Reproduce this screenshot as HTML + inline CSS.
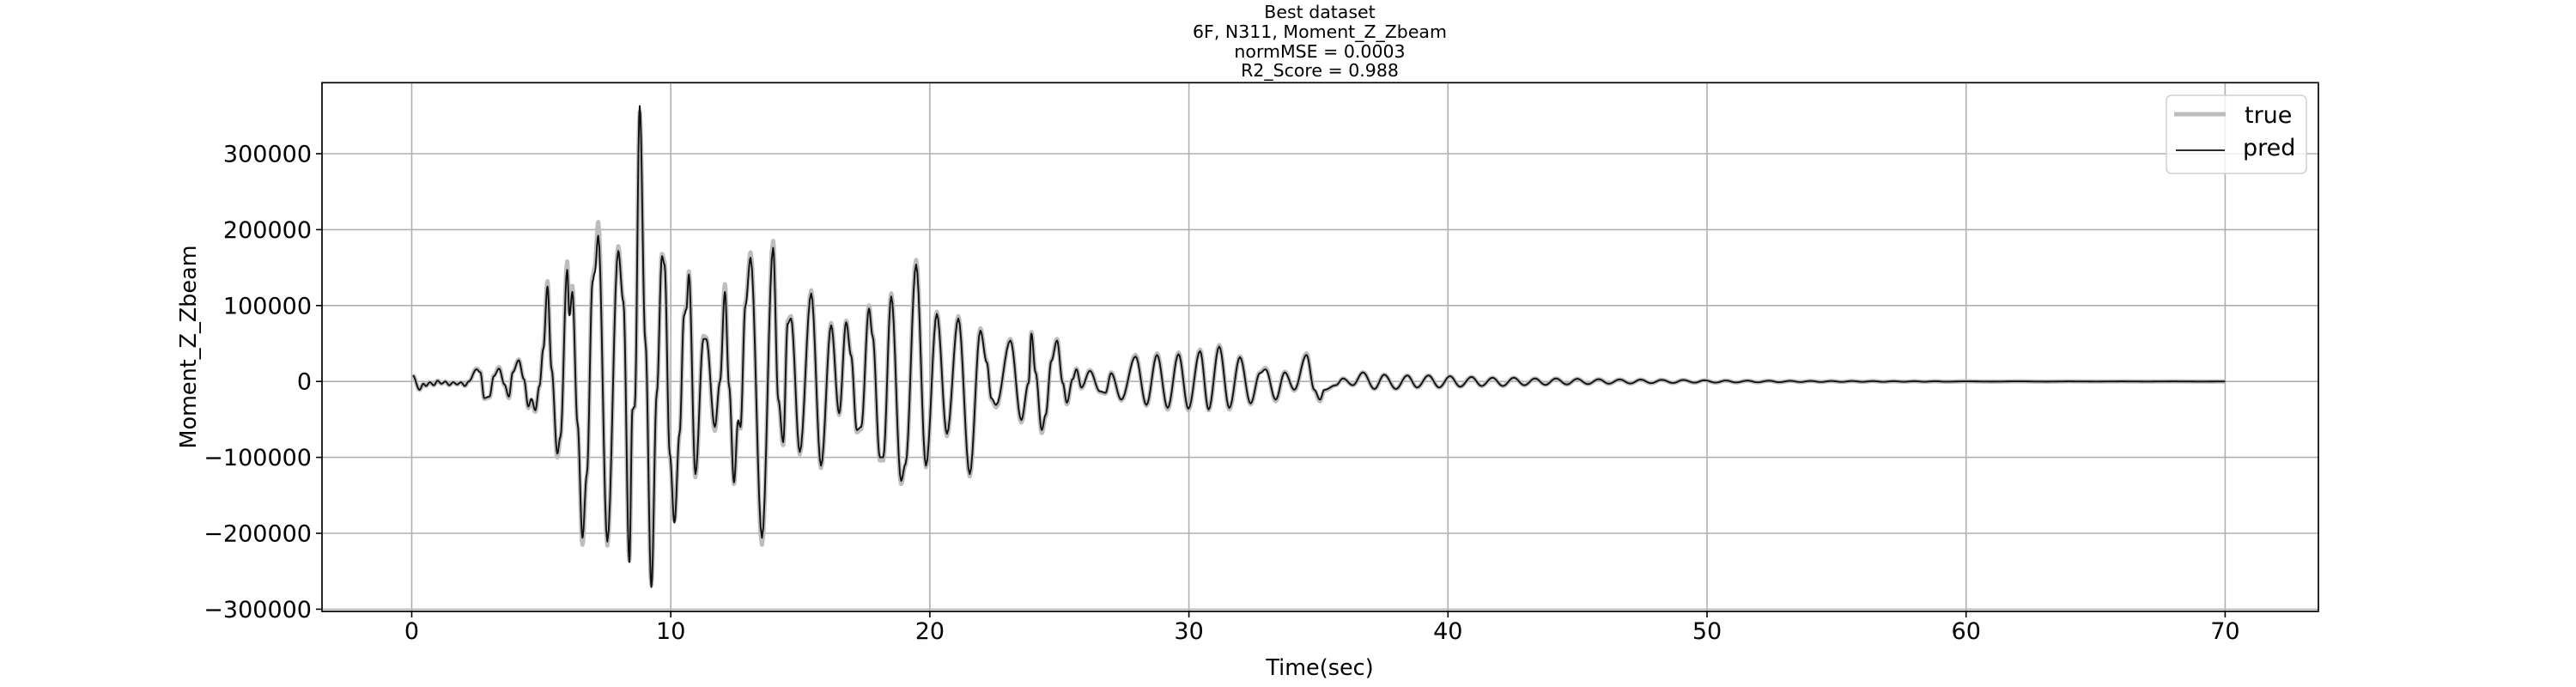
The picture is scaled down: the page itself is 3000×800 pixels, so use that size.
<!DOCTYPE html>
<html><head><meta charset="utf-8">
<style>
html,body{margin:0;padding:0;background:#fff;}
svg{display:block;font-family:"DejaVu Sans","Liberation Sans",sans-serif;}
</style></head>
<body>
<svg id="chart" width="3000" height="800" viewBox="0 0 3000 800" xmlns="http://www.w3.org/2000/svg">
<rect width="3000" height="800" fill="#fff"/>
<g font-size="20.5" text-anchor="middle" fill="#000">
<text x="1537" y="21">Best dataset</text>
<text x="1537" y="44">6F, N311, Moment_Z_Zbeam</text>
<text x="1537" y="67">normMSE = 0.0003</text>
<text x="1537" y="89">R2_Score = 0.988</text>
</g>
<g id="grid"></g>
<g id="ticks"></g>
<g id="series"></g>
<rect x="375" y="96.3" width="2325" height="615.7" fill="none" stroke="#000" stroke-width="1.7"/>
<text x="1537" y="786" font-size="25.5" text-anchor="middle">Time(sec)</text>
<text transform="translate(228,404) rotate(-90)" font-size="25.5" text-anchor="middle">Moment_Z_Zbeam</text>
<g>
<rect x="2523" y="111" width="163" height="91" rx="6" fill="#fff" fill-opacity="0.8" stroke="#d0d0d0" stroke-width="1.5"/>
<line x1="2532" y1="133" x2="2592" y2="133" stroke="#bdbdbd" stroke-width="5"/>
<text x="2614" y="143" font-size="27">true</text>
<line x1="2534" y1="175" x2="2591" y2="175" stroke="#111" stroke-width="1.8"/>
<text x="2612" y="181" font-size="27">pred</text>
</g>
</svg>
<script>
const times = [0.04,0.3,0.45,0.55,0.7,0.85,1.0,1.15,1.3,1.45,1.6,1.75,1.9,2.05,2.2,2.5,2.65,2.8,3.0,3.17,3.37,3.58,3.75,3.9,4.13,4.33,4.5,4.62,4.77,4.93,5.08,5.24,5.4,5.62,5.74,6.0,6.09,6.2,6.4,6.59,6.76,6.98,7.06,7.2,7.55,7.97,8.17,8.4,8.52,8.61,8.8,9.02,9.25,9.46,9.66,9.76,9.96,10.14,10.34,10.51,10.6,10.7,10.95,11.26,11.37,11.7,11.9,12.09,12.25,12.44,12.6,12.69,12.88,13.08,13.52,13.95,14.15,14.34,14.51,14.64,14.98,15.42,15.8,16.19,16.5,16.77,16.96,17.18,17.35,17.65,17.79,18.07,18.2,18.51,18.89,19.06,19.47,19.85,20.27,20.66,21.1,21.54,21.95,22.2,22.37,22.56,23.11,23.53,23.81,23.92,24.08,24.32,24.47,24.69,24.91,25.13,25.29,25.51,25.66,25.85,26.18,26.56,26.78,27.0,27.39,27.94,28.36,28.77,29.18,29.6,29.98,30.43,30.76,31.17,31.56,31.97,32.38,32.74,32.96,33.35,33.7,34.07,34.54,34.84,35.06,35.23,35.67,35.95,36.33,36.72,37.16,37.54,37.99,38.43,38.81,39.25,39.66,40.08,40.47,40.91,41.3,41.72,42.12,42.54,42.95,43.36,43.76,44.17,44.59,44.99,45.4,45.82,46.21,46.63,47.04,47.44,47.84,48.25,48.69,49.08,49.52,49.9,50.33,50.73,51.12,51.56,51.95,52.39,52.78,53.22,53.6,54.0,54.4,54.8,55.2,55.6,56.0,56.4,56.8,57.2,57.6,58.0,58.4,58.8,59.2,60,61,62,63,64,65,66,67,68,69,70];
const predValuesK = [8,-11,-3,-6,-1,-5,1,-3,0,-5,-1,-4,-1,-6,0,16,12,-22,-20,7,17,-4,-20,12,28,3,-33,-23,-38,-6,43,125,16,-95,-73,147,87,118,-55,-206,-122,132,143,192,-211,172,105,-238,-37,-33,363,52,-271,-15,165,154,-95,-186,-68,87,95,141,-122,56,56,-60,0,118,-6,-133,-51,-60,100,163,-206,176,-24,-80,76,83,-93,116,-111,74,-42,78,34,-64,-60,96,60,-100,-100,112,-131,-109,154,-111,89,-69,83,-122,67,25,-22,-31,54,-51,-2,63,12,-64,-44,27,54,-2,-28,3,16,-8,14,-13,-15,11,-24,33,-31,35,-35,36,-36,40,-37,46,-35,32,-29,11,16,-24,12,-11,35,-11,-24,-11,-5,4,-5,12,-10,9,-10,8,-8,8,-8,7,-7,6,-6,5,-6,5,-5,4,-4.5,4,-4,3.5,-3.5,3,-3,2.7,-2.7,2.5,-2.3,2.2,-2,2,-1.6,1.6,-1.5,1.2,-1.3,1.1,-1.1,1,-1,0.8,-0.8,0.7,-0.7,0.6,-0.6,0.6,-0.5,0.5,-0.5,0.4,-0.4,0.4,-0.4,0.3,-0.3,0.2,-0.2,0.2,-0.2,0.1,-0.1,0.1,-0.1,0.1,-0.1,0];
const trueValuesK = [8,-11,-3,-6,-1,-5,1,-3,0,-5,-1,-4,-1,-6,0,17,13,-23,-21,8,19,-5,-22,13,29,3,-35,-24,-40,-6,45,132,16,-100,-75,158,90,126,-58,-215,-125,138,150,210,-216,178,108,-236,-38,-34,355,55,-268,-16,168,158,-98,-184,-70,90,98,145,-126,60,58,-65,0,128,-6,-135,-55,-62,104,170,-215,185,-25,-84,80,86,-96,120,-114,77,-44,80,36,-67,-63,100,62,-104,-104,116,-135,-110,160,-113,92,-72,86,-125,70,26,-24,-34,56,-54,-2,65,13,-68,-46,28,56,-2,-30,3,17,-9,15,-14,-16,12,-25,35,-32,37,-37,38,-38,42,-38,48,-37,33,-30,12,18,-26,13,-12,37,-12,-26,-12,-5,4,-5,12,-10,9,-10,8,-8,8,-8,7,-7,6,-6,5,-6,5,-5,4,-4.5,4,-4,3.5,-3.5,3,-3,2.7,-2.7,2.5,-2.3,2.2,-2,2,-1.6,1.6,-1.5,1.2,-1.3,1.1,-1.1,1,-1,0.8,-0.8,0.7,-0.7,0.6,-0.6,0.6,-0.5,0.5,-0.5,0.4,-0.4,0.4,-0.4,0.3,-0.3,0.2,-0.2,0.2,-0.2,0.1,-0.1,0.1,-0.1,0.1,-0.1,0];
const xTickValues = [0,10,20,30,40,50,60,70];
const xTickLabels = ["0","10","20","30","40","50","60","70"];
const yTickValues = [-300000,-200000,-100000,0,100000,200000,300000];
const yTickLabels = ["\u2212300000","\u2212200000","\u2212100000","0","100000","200000","300000"];

const NS = "http://www.w3.org/2000/svg";
const PL = 375, PR = 2700, PT = 96.3, PB = 712;
function xScale(t){ return 479.5 + t * 30.17; }
function yScale(v){ return 444.2 - v / 100000 * 88.4; }
function mk(tag, attrs){ const e = document.createElementNS(NS, tag); for (const k in attrs) e.setAttribute(k, attrs[k]); return e; }

const grid = document.getElementById('grid');
const ticks = document.getElementById('ticks');
xTickValues.forEach((t, i) => {
  const x = xScale(t);
  const g = mk('line', {x1:x, y1:PT, x2:x, y2:PB, stroke:'#b0b0b0', 'stroke-width':1.6});
  
  
  grid.appendChild(g);
  const tk = mk('line', {x1:x, y1:PB, x2:x, y2:PB+7, stroke:'#000', 'stroke-width':1.6});
  
  
  ticks.appendChild(tk);
  const lb = mk('text', {x:x, y:744, 'font-size':27, 'text-anchor':'middle'});
  lb.textContent = xTickLabels[i];
  
  
  ticks.appendChild(lb);
});
yTickValues.forEach((v, i) => {
  const y = yScale(v);
  const g = mk('line', {x1:PL, y1:y, x2:PR, y2:y, stroke:'#b0b0b0', 'stroke-width':1.6});
  
  
  grid.appendChild(g);
  const tk = mk('line', {x1:PL-7, y1:y, x2:PL, y2:y, stroke:'#000', 'stroke-width':1.6});
  
  
  ticks.appendChild(tk);
  const lb = mk('text', {x:PL-12, y:y+9.5, 'font-size':27, 'text-anchor':'end'});
  lb.textContent = yTickLabels[i];
  
  
  ticks.appendChild(lb);
});

function buildPath(ts, vsK){
  let d = 'M' + xScale(ts[0]).toFixed(2) + ',' + yScale(vsK[0]*1000).toFixed(2);
  for (let i = 0; i < ts.length - 1; i++){
    const t0 = ts[i], t1 = ts[i+1], v0 = vsK[i]*1000, v1 = vsK[i+1]*1000;
    const n = 8;
    for (let k = 1; k <= n; k++){
      const s = k / n;
      const w = (1 - Math.cos(Math.PI * s)) / 2;
      d += 'L' + xScale(t0 + (t1 - t0) * s).toFixed(2) + ',' + yScale(v0 + (v1 - v0) * w).toFixed(2);
    }
  }
  return d;
}
const series = document.getElementById('series');
const trueLine = mk('path', {d: buildPath(times, trueValuesK), fill:'none', stroke:'#bdbdbd', 'stroke-width':5, 'stroke-linejoin':'round'});


series.appendChild(trueLine);
const predLine = mk('path', {d: buildPath(times, predValuesK), fill:'none', stroke:'#111', 'stroke-width':1.9, 'stroke-linejoin':'round'});


series.appendChild(predLine);
</script>
</body></html>
